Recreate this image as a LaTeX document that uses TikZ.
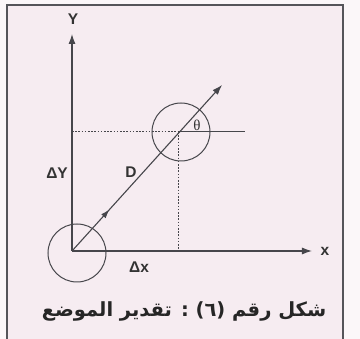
\documentclass[tikz,border=0pt]{standalone}
\usepackage{fontspec}
\setmainfont{Liberation Sans}
\newfontfamily\arabicfont[Script=Arabic]{DejaVu Sans}
\newfontfamily\greekserif{Liberation Serif}
\TeXXeTstate=1
\usetikzlibrary{arrows.meta,decorations.markings}
\definecolor{bgpink}{RGB}{246,236,241}
\definecolor{framegray}{RGB}{85,85,90}
\definecolor{linegray}{RGB}{70,70,75}
\tikzset{
  axis/.style={draw=linegray, line width=1.1pt, -{Latex[length=10pt,width=7pt]}},
  ring/.style={draw=linegray, line width=1pt},
  dotline/.style={draw=linegray, line width=1pt, dash pattern=on 1.6pt off 1.6pt},
  solidline/.style={draw=linegray, line width=1pt},
  lbl/.style={font=\fontsize{15.5}{18}\selectfont\bfseries, text=black!80, inner sep=0pt},
  midarrow/.style={postaction={decorate}, decoration={markings, mark=at position 0.25 with {\arrow{Latex[length=9pt,width=6pt]}}}}
}
\begin{document}
\begin{tikzpicture}[x=1pt,y=-1pt]
\useasboundingbox (0,0) rectangle (360,339);
\fill[white!60!bgpink] (0,0) rectangle (360,339);
\fill[bgpink] (7,5) rectangle (343,345);
\draw[framegray, line width=2pt] (7,345) -- (7,5) -- (343,5) -- (343,345);

\coordinate (O) at (72,251);
\coordinate (P) at (179,132);
\coordinate (Ytip) at (72,34);
\coordinate (Xtip) at (312,251);
\coordinate (Dtip) at (222,85);
\coordinate (Hend) at (245,132);
\coordinate (Ya) at (72,132);
\coordinate (Xa) at (179,251);

\draw[axis] (O) -- (Ytip);
\draw[axis] (O) -- (Xtip);
\draw[ring] (77,253) circle[radius=29];
\draw[ring] (181,132) circle[radius=29];
\draw[dotline] (Ya) -- (P);
\draw[dotline] (P) -- (Xa);
\draw[solidline] (P) -- (Hend);
\draw[axis, midarrow] (O) -- (Dtip);

\node[lbl] (ylab) at (73,19) {Y};
\node[lbl] (xlab) at (325,251) {x};
\node[lbl] (dylab) at (57,173) {ΔY};
\node[lbl] (dlab) at (131,172) {D};
\node[lbl] (dxlab) at (139,267) {Δx};
\node[inner sep=0pt, text=black!80] (thlab) at (197,125) {\fontsize{15}{17}\selectfont\greekserif θ};

\node[inner sep=0pt, text=black!85] (cap) at (184,311) {\arabicfont\bfseries\fontsize{19.5}{24}\selectfont\beginR شكل رقم (٦) : تقدير الموضع\endR};
\end{tikzpicture}
\end{document}
